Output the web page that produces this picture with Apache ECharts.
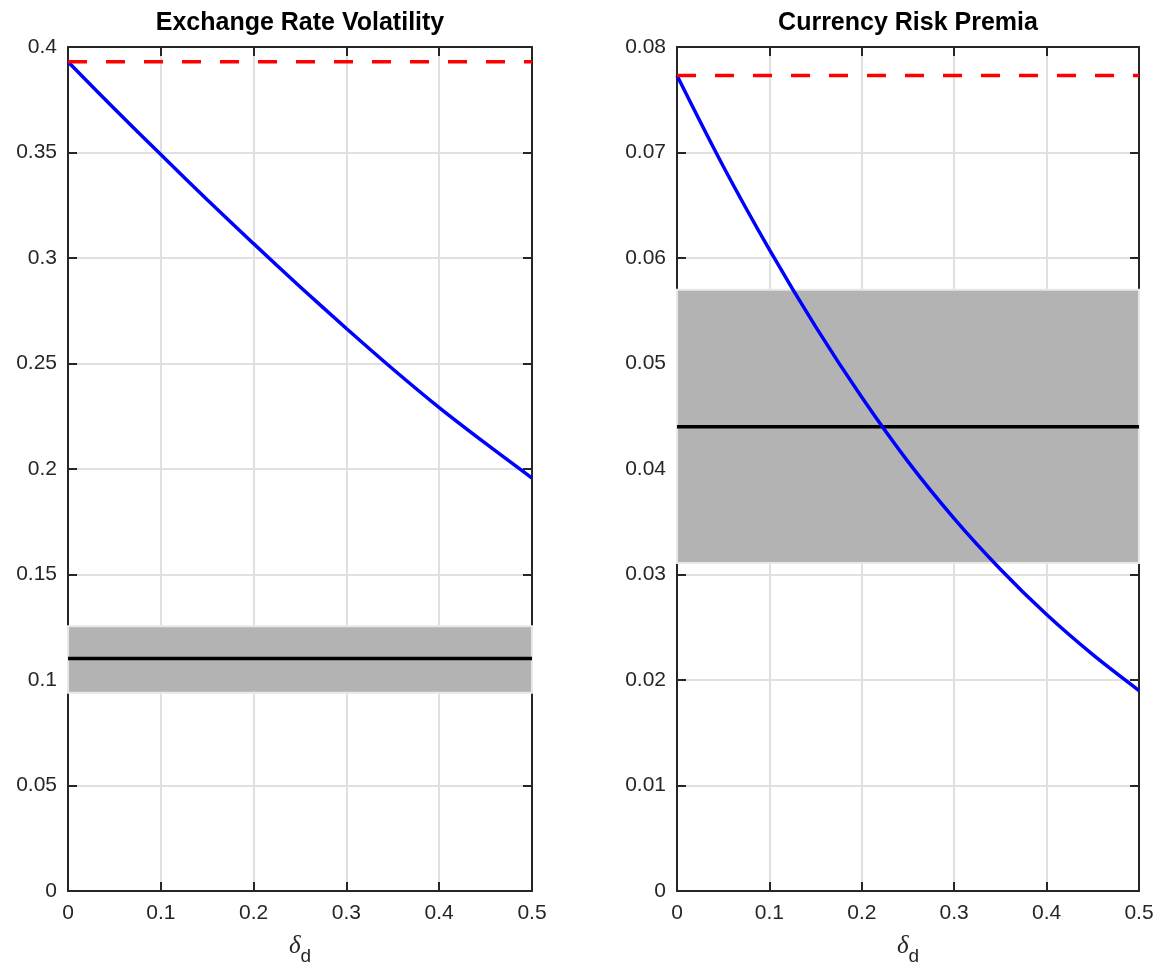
<!DOCTYPE html>
<html>
<head>
<meta charset="utf-8">
<script src="https://cdn.jsdelivr.net/npm/echarts@6/dist/echarts.min.js"></script>
<style>
html,body{margin:0;padding:0;background:#fff;}
#chart{width:1158px;height:966px;}
</style>
</head>
<body>
<div id="chart"></div>
<script>
// ---- data ----
const titles = ['Exchange Rate Volatility', 'Currency Risk Premia'];
const deltaD = [0, 0.05, 0.10, 0.15, 0.20, 0.25, 0.30, 0.35, 0.40, 0.45, 0.50];
// model (blue)
const volModel = [0.393, 0.3707, 0.3490, 0.3276, 0.3068, 0.2864, 0.2666, 0.2474, 0.2291, 0.2121, 0.1957];
const rpModel  = [0.0773, 0.0687, 0.0608, 0.0535, 0.0468, 0.0407, 0.0353, 0.0305, 0.0262, 0.0224, 0.0190];
// benchmark (red dashed)
const volBenchmark = 0.393;
const rpBenchmark  = 0.0773;
// data estimate (black) and band (grey)
const volData = 0.1102;
const volBand = [0.0940, 0.1255];
const rpData  = 0.0440;
const rpBand  = [0.0311, 0.0570];
// axes
const xTicks = { min: 0, max: 0.5, interval: 0.1 };
const volTicks = { min: 0, max: 0.4, interval: 0.05 };
const rpTicks  = { min: 0, max: 0.08, interval: 0.01 };

// ---- styles ----
const axisColor = '#262626';
const font = 'Liberation Sans, Arial, Helvetica, sans-serif';
const grids = [
  { left: 68, top: 47, width: 464, height: 844, outerBoundsMode: 'none', containLabel: false },
  { left: 677, top: 47, width: 462, height: 844, outerBoundsMode: 'none', containLabel: false }
];

function xAxisPair(gi) {
  const base = {
    type: 'value', gridIndex: gi, min: xTicks.min, max: xTicks.max, interval: xTicks.interval,
    axisLine: { show: true, onZero: false, lineStyle: { color: axisColor, width: 2 } },
    axisTick: { show: true, inside: true, length: 9, lineStyle: { color: axisColor, width: 2 } },
    splitLine: { show: false }
  };
  return [
    Object.assign({}, base, {
      position: 'bottom',
      splitLine: { show: true, lineStyle: { color: '#e0e0e0', width: 2 } },
      axisLabel: { show: true, color: axisColor, fontSize: 21, fontFamily: font, margin: 12 },
      name: '{g|δ}{s|d}', nameLocation: 'middle', nameGap: 35,
      nameTextStyle: {
        rich: {
          g: { fontFamily: 'Liberation Serif, DejaVu Serif, serif', fontStyle: 'italic', fontSize: 25, color: axisColor, lineHeight: 40, verticalAlign: 'middle' },
          s: { fontFamily: font, fontSize: 19, color: axisColor, lineHeight: 19, verticalAlign: 'bottom' }
        }
      }
    }),
    Object.assign({}, base, { position: 'top', axisLabel: { show: false } })
  ];
}
function yAxisPair(gi, t) {
  const base = {
    type: 'value', gridIndex: gi, min: t.min, max: t.max, interval: t.interval,
    axisLine: { show: true, onZero: false, lineStyle: { color: axisColor, width: 2 } },
    axisTick: { show: true, inside: true, length: 9, lineStyle: { color: axisColor, width: 2 } },
    splitLine: { show: false }
  };
  return [
    Object.assign({}, base, {
      position: 'left',
      splitLine: { show: true, lineStyle: { color: '#e0e0e0', width: 2 } },
      axisLabel: { show: true, color: axisColor, fontSize: 21, fontFamily: font, margin: 11 }
    }),
    Object.assign({}, base, { position: 'right', axisLabel: { show: false } })
  ];
}

function panelSeries(xi, yi, model, bench, dataVal, band) {
  const x0 = deltaD[0], x1 = deltaD[deltaD.length - 1];
  return [
    {
      type: 'line', xAxisIndex: xi, yAxisIndex: yi, data: [], z: 1, silent: true,
      markArea: {
        silent: true,
        itemStyle: { color: '#b3b3b3', borderColor: '#e8e8e8', borderWidth: 2 },
        data: [[{ yAxis: band[0] }, { yAxis: band[1] }]]
      }
    },
    {
      type: 'line', xAxisIndex: xi, yAxisIndex: yi, z: 2, symbol: 'none', silent: true,
      lineStyle: { color: '#000000', width: 3.5 },
      data: [[x0, dataVal], [x1, dataVal]]
    },
    {
      type: 'line', xAxisIndex: xi, yAxisIndex: yi, z: 3, symbol: 'none', silent: true, smooth: 0.3,
      lineStyle: { color: '#0000ff', width: 3.5 },
      data: deltaD.map((x, i) => [x, model[i]])
    },
    {
      type: 'line', xAxisIndex: xi, yAxisIndex: yi, z: 4, symbol: 'none', silent: true,
      lineStyle: { color: '#ff0000', width: 3.5, type: [19, 19] },
      data: [[x0, bench], [x1, bench]]
    }
  ];
}

const xa0 = xAxisPair(0), xa1 = xAxisPair(1);
const ya0 = yAxisPair(0, volTicks), ya1 = yAxisPair(1, rpTicks);

const option = {
  animation: false,
  backgroundColor: '#ffffff',
  title: [
    { text: titles[0], left: 300, top: 11, padding: 0, textAlign: 'center',
      textStyle: { fontFamily: font, fontWeight: 'bold', fontSize: 25, color: '#000' } },
    { text: titles[1], left: 908, top: 11, padding: 0, textAlign: 'center',
      textStyle: { fontFamily: font, fontWeight: 'bold', fontSize: 25, color: '#000' } }
  ],
  grid: grids,
  xAxis: [xa0[0], xa0[1], xa1[0], xa1[1]],
  yAxis: [ya0[0], ya0[1], ya1[0], ya1[1]],
  series: [].concat(
    panelSeries(0, 0, volModel, volBenchmark, volData, volBand),
    panelSeries(2, 2, rpModel, rpBenchmark, rpData, rpBand)
  )
};

const chart = echarts.init(document.getElementById('chart'), null, { renderer: 'canvas' });
chart.setOption(option);
</script>
</body>
</html>
